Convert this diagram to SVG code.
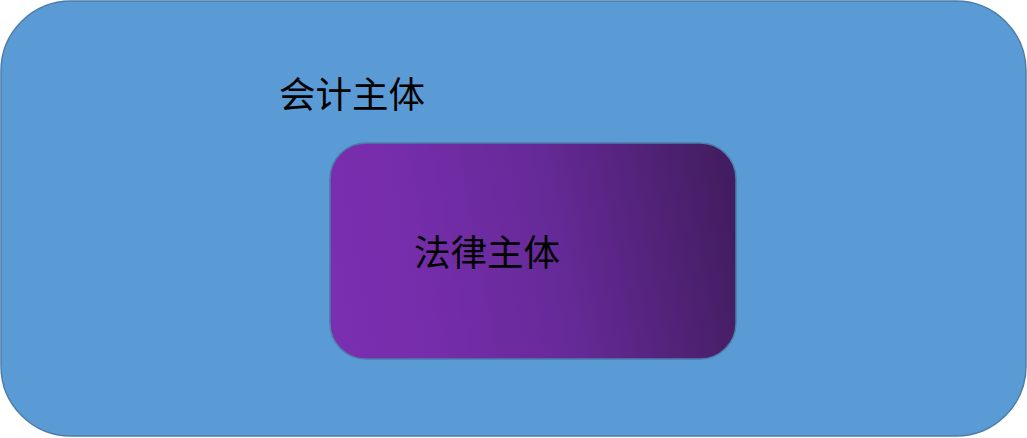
<svg xmlns="http://www.w3.org/2000/svg" width="1027" height="438" viewBox="0 0 1027 438">
<style>
.lbl{font-family:"Noto Sans CJK SC","Liberation Sans",sans-serif;font-size:36.5px;fill:#000}
.box{stroke:#4A7EA8;stroke-width:1.5}
</style>
<defs>
<linearGradient id="g1" x1="0" y1="0.55" x2="1" y2="0.45">
<stop offset="0" stop-color="#7A2EB0"/>
<stop offset="0.2" stop-color="#762DAB"/>
<stop offset="0.55" stop-color="#662A98"/>
<stop offset="1" stop-color="#431D61"/>
</linearGradient>
</defs>
<rect width="1027" height="438" fill="#ffffff"/>
<g id="accounting-entity">
<rect class="box" x="1" y="1" width="1025" height="435" rx="70" ry="70" fill="#5B9BD5"/>
<text class="lbl" x="279" y="108">会计主体</text>
</g>
<g id="legal-entity">
<rect class="box" x="330" y="143" width="406" height="216" rx="36" ry="36" fill="url(#g1)"/>
<text class="lbl" x="414" y="266">法律主体</text>
</g>
<g id="connectors"/>
</svg>
